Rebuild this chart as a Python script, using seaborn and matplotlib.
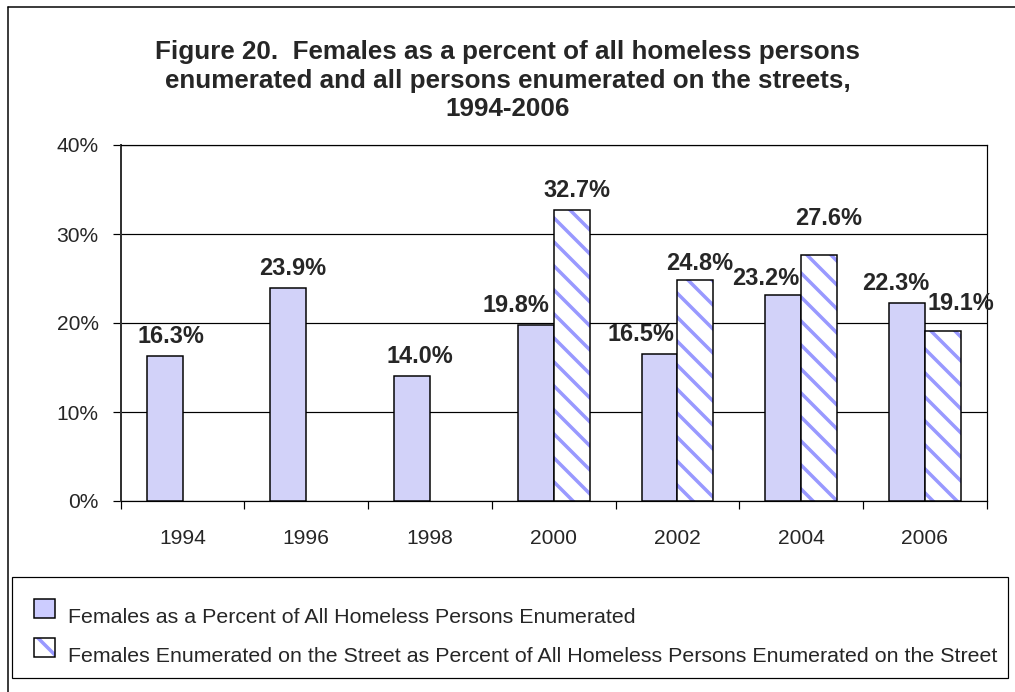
import numpy as np
import pandas as pd
import matplotlib
matplotlib.use("Agg")
import matplotlib.pyplot as plt
import seaborn as sns
from matplotlib.patches import Patch, Rectangle
from matplotlib.lines import Line2D
from matplotlib.legend_handler import HandlerPatch

# =========================
# DATA
# =========================
years = ["1994", "1996", "1998", "2000", "2002", "2004", "2006"]
all_homeless = [16.3, 23.9, 14.0, 19.8, 16.5, 23.2, 22.3]
on_street = [np.nan, np.nan, np.nan, 32.7, 24.8, 27.6, 19.1]

series_names = [
    "Females as a Percent of All Homeless Persons Enumerated",
    "Females Enumerated on the Street as Percent of All Homeless Persons Enumerated on the Street",
]

title = ("Figure 20.  Females as a percent of all homeless persons\n"
         "enumerated and all persons enumerated on the streets,\n"
         "1994-2006")

# label nudges in pixels (dx, dy) per series, per year
label_nudge = [
    [(6, 8), (4, 8), (8, 8), (-20, 8), (-19, 8), (-17, 5), (-11, 8)],
    [(0, 8), (0, 8), (0, 8), (5, 8), (4, 5), (10, 25), (18, 16)],
]

df = pd.DataFrame({
    "year": years * 2,
    "series": [series_names[0]] * len(years) + [series_names[1]] * len(years),
    "value": all_homeless + on_street,
})

# =========================
# STYLE
# =========================
sns.set_style("white")
plt.rcParams["font.family"] = ["Liberation Sans", "DejaVu Sans"]
plt.rcParams["hatch.linewidth"] = 3.5

DPI = 72
W, H = 1015, 692
SOLID = "#CCCCFF"
STRIPE = "#9999FF"

fig = plt.figure(figsize=(W / DPI, H / DPI), dpi=DPI)
ax = fig.add_axes([120.7 / W, (H - 501) / H, 866 / W, 356 / H])

sns.barplot(
    data=df, x="year", y="value", hue="series",
    hue_order=series_names, order=years,
    palette={series_names[0]: SOLID, series_names[1]: "white"},
    width=0.58, edgecolor="black", linewidth=1.5,
    legend=False, ax=ax, zorder=3,
)

# hatched bars: blue stripes + black outline
for bar in ax.containers[1]:
    if np.isnan(bar.get_height()):
        continue
    bar.set_edgecolor(STRIPE)
    bar.set_hatch("\\")
    bar.set_linewidth(0)
    ax.add_patch(Rectangle((bar.get_x(), bar.get_y()), bar.get_width(), bar.get_height(),
                           fill=False, edgecolor="black", linewidth=1.5, zorder=4))

# value labels
for s, cont in enumerate(ax.containers):
    for bar in cont:
        h = bar.get_height()
        if np.isnan(h) or h == 0:
            continue
        idx = int(round(bar.get_x() + bar.get_width() / 2))
        dx, dy = label_nudge[s][idx]
        ax.annotate(f"{h:.1f}%", (bar.get_x() + bar.get_width() / 2, h),
                    xytext=(dx, dy), textcoords="offset points",
                    ha="center", va="bottom", fontsize=23.5, fontweight="bold", zorder=5)

# =========================
# AXES
# =========================
ax.set_ylim(0, 40)
ax.set_xlim(-0.5, len(years) - 0.5)
ax.set_yticks([0, 10, 20, 30, 40])
ax.set_yticklabels([f"{v}%" for v in [0, 10, 20, 30, 40]], fontsize=21)
ax.yaxis.grid(True, color="black", linewidth=1.2, zorder=0)
ax.set_axisbelow(True)
ax.tick_params(axis="y", direction="out", length=8, width=1.2, pad=14, left=True, color="black")

ax.set_xticks(np.arange(-0.5, len(years), 1))
ax.set_xticklabels([])
ax.set_xticks(np.arange(len(years)), minor=True)
ax.set_xticklabels(years, minor=True, fontsize=21)
ax.tick_params(axis="x", which="major", direction="out", length=8, width=1.2, bottom=True, color="black")
ax.tick_params(axis="x", which="minor", length=0, pad=28)
ax.set_xlabel("")
ax.set_ylabel("")

for side in ["left", "right", "top", "bottom"]:
    ax.spines[side].set_visible(True)
    ax.spines[side].set_color("black")
    ax.spines[side].set_linewidth(1.2)
ax.spines["left"].set_linewidth(2)
ax.spines["left"].set_color("#333333")

# =========================
# TITLE, LEGEND, BORDER
# =========================
fig.text(0.5, 1 - 40 / H, title, ha="center", va="top", fontsize=26,
         fontweight="bold", linespacing=1.25)


def raised_square(legend, orig_handle, xdescent, ydescent, width, height, fontsize):
    return Rectangle((-xdescent, -ydescent + 7), width, height)


handles = [
    Patch(facecolor=SOLID, edgecolor="black", linewidth=1.5),
    (Patch(facecolor="white", edgecolor=STRIPE, hatch="\\", linewidth=0),
     Patch(fill=False, edgecolor="black", linewidth=1.5)),
]
leg = fig.legend(handles, series_names, loc="upper left",
                 bbox_to_anchor=(34 / W, 1 - 606 / H),
                 borderaxespad=0, borderpad=0, fontsize=21.4,
                 handlelength=0.98, handleheight=0.98, handletextpad=0.61,
                 labelspacing=0.86, frameon=False,
                 handler_map={Patch: HandlerPatch(patch_func=raised_square)})

fig.add_artist(Rectangle((12 / W, (H - 678) / H), 996 / W, 101 / H,
                         transform=fig.transFigure, fill=False,
                         edgecolor="black", linewidth=1.2))
fig.add_artist(Line2D([8 / W, 8 / W], [0, 1 - 7 / H], color="black", linewidth=1.5))
fig.add_artist(Line2D([8 / W, 1], [1 - 7 / H, 1 - 7 / H], color="black", linewidth=1.5))

fig.savefig("out.png", dpi=DPI)
plt.close(fig)
